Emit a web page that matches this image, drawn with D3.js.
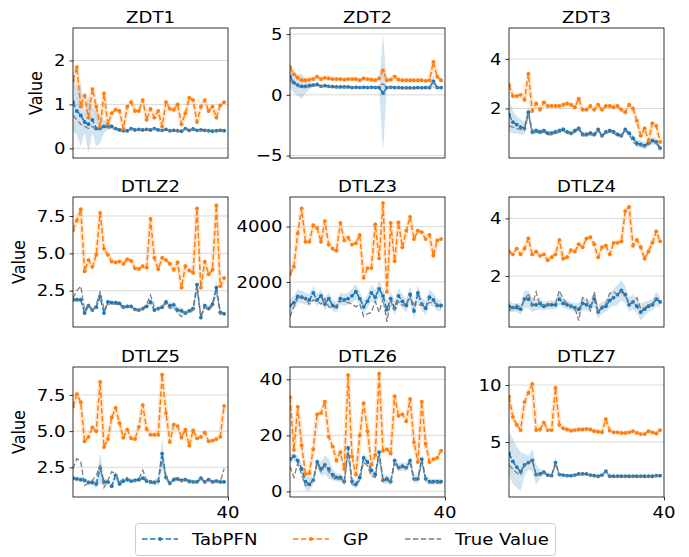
<!DOCTYPE html>
<html><head><meta charset="utf-8">
<script src="https://cdn.jsdelivr.net/npm/d3@7/dist/d3.min.js"></script>
<style>body{margin:0;background:#fff}svg{display:block;font-family:"DejaVu Sans",sans-serif}</style>
</head><body><svg id="c" width="689" height="557"></svg>
<script>
// ---------- data ----------
const titles = ["ZDT1","ZDT2","ZDT3","DTLZ2","DTLZ3","DTLZ4","DTLZ5","DTLZ6","DTLZ7"];
const legendLabels = ["TabPFN","GP","True Value"];
const xTicks = [40];

const zdt1_gp = [1.55,1.85,0.95,1.2,0.7,1.35,0.95,0.5,1.25,0.55,0.8,0.88,0.85,0.45,0.95,1.05,0.85,0.85,1.1,0.65,0.9,0.7,0.85,0.5,1.05,0.9,0.88,1.0,0.55,0.8,1.15,1.1,0.6,0.95,1.1,0.85,0.95,0.7,0.98,1.05];
const zdt1_tab = [1.05,0.85,0.75,0.6,0.55,0.65,0.45,0.45,0.5,0.5,0.5,0.45,0.42,0.4,0.4,0.45,0.42,0.43,0.42,0.43,0.42,0.45,0.42,0.41,0.43,0.4,0.41,0.4,0.39,0.45,0.41,0.44,0.41,0.42,0.41,0.4,0.39,0.4,0.41,0.4];
const zdt1_true = [0.75,0.65,0.55,0.5,0.45,0.5,0.42,0.45,0.48,0.47,0.45,0.43,0.4,0.4,0.4,0.43,0.41,0.42,0.41,0.42,0.41,0.44,0.41,0.4,0.42,0.4,0.4,0.4,0.38,0.44,0.4,0.43,0.4,0.41,0.4,0.39,0.38,0.39,0.4,0.39];
const zdt1_err = [0.65,0.55,0.7,0.25,0.65,0.3,0.4,0.33,0.15,0.08,0.05,0.03,0.03,0.03,0.03,0.03,0.03,0.03,0.03,0.03,0.03,0.03,0.03,0.03,0.03,0.03,0.03,0.03,0.03,0.03,0.03,0.03,0.03,0.03,0.03,0.03,0.03,0.03,0.03,0.03];

const zdt2_gp = [2.3,1.7,1.4,1.2,1.2,1.25,1.3,1.5,1.3,1.4,1.35,1.3,1.3,1.3,1.25,1.3,1.3,1.3,1.2,1.35,1.3,1.25,1.2,1.35,2.0,1.2,1.25,1.5,1.25,1.2,1.2,1.2,1.2,1.2,1.2,1.15,1.2,2.7,1.5,1.2];
const zdt2_tab = [1.5,1.0,0.8,0.7,0.7,0.75,0.8,0.85,0.7,0.75,0.7,0.68,0.65,0.65,0.65,0.65,0.6,0.62,0.6,0.62,0.6,0.62,0.6,0.6,0.15,0.6,0.62,0.6,0.6,0.58,0.58,0.58,0.58,0.6,0.58,0.6,0.6,1.1,0.6,0.6];
const zdt2_true = [1.2,0.85,0.7,0.6,0.6,0.68,0.7,0.8,0.65,0.7,0.65,0.62,0.6,0.6,0.6,0.6,0.58,0.6,0.58,0.6,0.58,0.6,0.58,0.75,0.9,0.58,0.6,0.58,0.58,0.55,0.55,0.55,0.55,0.58,0.55,0.58,0.58,1.05,0.58,0.58];
const zdt2_err = [0.9,0.8,0.9,1.05,0.6,0.3,0.15,0.1,0.08,0.08,0.06,0.06,0.06,0.06,0.06,0.06,0.06,0.06,0.06,0.06,0.06,0.06,0.06,0.1,4.85,0.1,0.06,0.06,0.06,0.06,0.06,0.06,0.06,0.06,0.06,0.1,0.2,0.55,0.1,0.06];

const zdt3_gp = [2.95,2.5,2.5,2.55,2.35,3.4,1.9,2.2,1.95,2.25,2.1,2.1,2.1,2.1,2.15,2.2,2.15,2.05,2.4,1.95,1.95,2.1,1.95,2.15,1.95,2.1,2.1,2.05,2.1,1.95,1.85,2.15,2.0,1.5,0.9,1.2,0.7,1.4,1.3,0.65];
const zdt3_tab = [1.75,1.45,1.35,1.25,1.2,1.85,1.05,1.1,1.05,1.1,1.0,1.0,1.05,1.1,1.15,1.05,1.0,1.1,1.2,0.95,0.95,1.0,0.95,1.15,0.9,1.05,1.1,1.05,0.95,0.9,1.15,1.0,0.8,0.6,0.55,0.5,0.6,0.7,0.65,0.4];
const zdt3_true = [1.3,1.25,1.2,1.15,1.1,1.8,1.0,1.05,1.0,1.05,0.95,0.95,1.0,1.05,1.1,1.0,0.95,1.05,1.15,0.9,0.9,0.95,0.9,1.1,0.85,1.0,1.05,1.0,0.9,0.85,1.1,0.95,0.65,0.5,0.5,0.45,0.55,0.65,0.6,0.35];
const zdt3_err = [0.7,0.45,0.35,0.3,0.25,0.25,0.15,0.12,0.1,0.1,0.1,0.1,0.1,0.1,0.1,0.1,0.1,0.1,0.1,0.1,0.1,0.1,0.1,0.1,0.1,0.1,0.1,0.1,0.1,0.1,0.1,0.1,0.15,0.15,0.15,0.15,0.15,0.15,0.15,0.15];

const dtlz2_gp = [6.55,7.2,7.95,3.8,4.55,4.1,4.9,7.7,5.3,4.9,4.45,4.4,4.45,4.3,4.6,4.5,4.0,3.95,4.15,4.05,7.3,4.7,3.95,4.7,4.55,4.3,3.9,4.4,2.7,4.15,3.85,3.7,8.0,2.7,4.45,3.6,3.9,8.2,2.8,3.35];
const dtlz2_tab = [1.9,1.9,1.9,1.0,1.5,1.2,1.4,2.1,1.0,1.75,1.7,1.7,1.65,1.4,1.45,1.45,1.25,1.2,1.3,1.45,1.75,1.2,1.3,1.4,1.75,1.5,1.55,1.2,1.15,1.0,1.15,1.3,2.9,0.7,1.5,1.3,1.6,2.7,1.05,0.95];
const dtlz2_true = [2.0,2.5,2.8,1.2,1.6,1.1,1.6,2.4,1.3,1.6,1.6,1.6,1.55,1.35,1.4,1.4,1.2,1.15,1.35,1.6,2.2,1.4,1.2,1.5,1.6,1.3,1.4,1.0,0.75,1.1,1.0,1.2,2.7,0.8,1.4,1.2,1.5,2.5,0.9,0.9];
const dtlz2_err = [0.15,0.15,0.15,0.15,0.2,0.15,0.15,0.2,0.15,0.15,0.12,0.12,0.12,0.12,0.12,0.12,0.12,0.12,0.12,0.15,0.2,0.15,0.15,0.15,0.2,0.2,0.25,0.2,0.25,0.15,0.15,0.2,0.45,0.2,0.2,0.15,0.2,0.55,0.15,0.12];

const dtlz3_gp = [2290,2550,3760,4660,3450,3450,4050,3950,3450,4200,3350,3200,3130,4130,3500,3600,3350,3400,3700,2150,2500,2500,4080,2850,4850,1640,4130,2750,4150,3250,3850,4350,3550,3850,3800,3550,3700,2950,3500,3550];
const dtlz3_tab = [1150,1250,1480,1450,1400,1350,1600,1350,1500,1200,1400,1150,1100,1400,1350,1400,1500,1650,1400,1100,1300,1600,1450,1750,1500,1000,1400,1050,1500,1300,1150,1550,950,1600,1200,1050,1450,1350,1150,1150];
const dtlz3_true = [750,1100,1400,1500,1400,1200,1350,1300,1200,1400,1100,1050,1150,1300,1300,1250,1200,1100,1200,750,850,900,1300,900,1400,560,1300,1000,1300,1150,1250,1400,1200,1150,1200,1200,1250,1250,1200,1050];
const dtlz3_err = [250,250,250,220,220,220,250,220,220,220,220,200,200,220,220,220,250,280,250,250,250,300,250,300,280,300,250,250,280,250,250,300,280,300,250,250,280,250,220,200];

const dtlz4_gp = [2.85,2.75,2.95,2.75,2.95,3.3,2.75,2.85,2.7,2.75,2.55,2.65,2.75,3.25,2.6,2.65,2.9,2.85,3.1,3.0,3.3,3.35,3.1,2.65,3.0,3.05,2.75,3.15,3.15,3.2,4.25,4.4,3.05,3.25,3.0,2.6,2.85,3.15,3.55,3.2];
const dtlz4_tab = [0.95,0.9,0.9,0.85,1.2,1.2,1.0,1.0,1.05,0.95,1.0,1.0,1.0,1.2,1.05,1.0,0.95,0.9,0.85,1.05,1.0,0.95,1.2,0.75,0.9,0.95,1.15,1.25,1.35,1.5,1.35,1.0,1.1,0.95,0.75,0.85,0.95,1.0,1.2,1.1];
const dtlz4_true = [0.8,0.9,1.0,0.9,1.15,1.4,1.0,1.45,0.95,1.0,1.0,1.05,1.05,1.5,1.2,1.05,0.95,0.9,0.45,1.25,1.2,0.8,1.45,0.75,0.95,1.05,1.4,1.45,1.35,1.45,1.3,1.1,1.05,1.25,0.85,0.9,1.0,1.05,1.25,1.15];
const dtlz4_err = [0.2,0.15,0.15,0.2,0.3,0.3,0.25,0.2,0.2,0.15,0.15,0.15,0.15,0.2,0.15,0.15,0.15,0.15,0.2,0.25,0.2,0.2,0.25,0.25,0.2,0.2,0.25,0.3,0.35,0.35,0.3,0.25,0.25,0.25,0.3,0.25,0.2,0.2,0.25,0.2];

const dtlz5_gp = [6.7,7.55,7.0,4.3,4.6,5.25,5.0,8.4,3.9,4.45,5.95,6.6,5.55,4.55,5.1,4.5,4.45,5.3,6.8,5.15,4.75,4.75,4.75,8.9,6.25,4.25,5.45,5.35,4.55,5.1,4.0,5.05,4.5,4.6,4.9,4.3,4.35,4.45,4.6,6.75];
const dtlz5_tab = [1.75,1.7,1.65,1.6,1.45,1.45,1.35,2.45,1.5,1.5,1.2,1.95,1.35,1.55,1.65,1.55,1.6,1.65,1.75,1.55,1.5,1.45,1.55,3.45,1.8,1.4,1.65,1.7,1.6,1.65,1.55,1.5,1.5,1.75,1.5,1.65,1.5,1.55,1.5,1.5];
const dtlz5_true = [2.4,3.1,2.9,1.25,1.4,1.6,1.95,2.6,1.1,1.6,2.2,2.05,1.5,1.7,1.8,1.5,1.55,1.7,2.3,1.6,1.4,1.4,1.6,3.0,1.9,1.3,1.75,1.75,1.5,1.7,1.4,1.55,1.4,1.7,1.4,1.7,1.4,1.5,1.5,2.4];
const dtlz5_err = [0.15,0.15,0.15,0.15,0.15,0.15,0.3,1.05,0.3,0.15,0.2,0.3,0.2,0.15,0.15,0.15,0.15,0.15,0.15,0.15,0.15,0.15,0.3,1.1,0.3,0.15,0.15,0.15,0.15,0.15,0.15,0.15,0.15,0.15,0.15,0.15,0.15,0.15,0.15,0.15];

const dtlz6_gp = [33.6,14.8,30.2,16.5,6.2,6.5,15.0,27.5,28.0,32.0,19.5,16.0,11.0,14.0,8.0,41.5,12.5,6.0,20.0,31.5,21.5,9.5,13.0,42.0,14.5,15.0,13.5,34.0,27.0,27.5,25.0,33.0,17.5,10.5,32.0,17.0,10.5,11.5,12.0,14.5];
const dtlz6_tab = [11.5,12.5,11.0,8.0,3.5,2.5,4.0,10.5,8.0,9.5,8.0,6.0,5.0,5.0,3.5,15.5,3.5,2.5,5.0,12.0,10.5,7.5,6.0,14.0,4.0,4.5,3.5,11.0,8.5,9.0,8.5,11.0,4.5,4.5,11.5,4.5,3.5,3.5,3.5,3.5];
const dtlz6_true = [9.0,5.0,10.0,6.0,2.0,3.0,3.5,9.5,7.0,9.0,7.0,5.0,4.0,4.5,3.0,14.0,2.5,2.0,4.0,10.5,9.0,5.5,5.0,13.0,3.5,4.0,3.0,10.0,8.0,8.5,8.0,10.0,4.0,4.0,10.5,4.0,3.0,3.0,3.0,3.0];
const dtlz6_err = [1.5,1.5,1.5,2.0,3.0,2.5,1.5,1.5,2.5,3.5,3.5,2.0,1.5,1.5,1.5,1.5,1.5,1.5,1.5,1.5,1.5,1.5,1.5,1.5,1.5,1.5,1.5,1.5,1.5,1.5,1.5,1.5,1.5,1.5,1.5,1.5,1.0,1.0,1.0,1.0];

const dtlz7_gp = [8.98,7.2,6.5,6.05,8.5,9.3,10.1,6.05,6.1,6.7,6.05,6.05,9.75,6.5,6.2,6.1,6.0,6.05,6.1,6.1,6.15,6.1,5.95,5.9,5.85,7.0,6.0,5.85,5.85,5.8,5.8,5.85,5.95,5.8,5.7,5.7,5.95,5.85,5.75,6.05];
const dtlz7_tab = [4.0,3.3,2.8,2.4,3.0,3.2,3.4,2.15,2.2,2.35,2.1,2.05,3.2,2.15,2.1,2.05,2.05,2.1,2.2,2.2,2.2,2.1,2.05,2.0,2.1,2.45,2.0,2.0,2.0,2.0,2.0,2.0,2.0,2.0,2.0,2.0,2.0,2.0,2.05,2.05];
const dtlz7_true = [3.0,2.6,2.3,2.1,2.9,3.2,3.3,2.1,2.15,2.3,2.05,2.0,3.1,2.1,2.05,2.0,2.0,2.05,2.15,2.15,2.15,2.05,2.0,1.95,2.05,2.4,1.95,1.95,1.95,1.95,1.95,1.95,1.95,1.95,1.95,1.95,1.95,1.95,2.0,2.0];
const dtlz7_err = [1.9,2.0,1.8,1.7,1.0,0.6,1.0,0.9,0.4,0.2,0.1,0.1,0.45,0.1,0.1,0.1,0.1,0.1,0.1,0.1,0.1,0.1,0.1,0.1,0.1,0.2,0.1,0.1,0.1,0.1,0.1,0.1,0.1,0.1,0.1,0.1,0.1,0.1,0.1,0.1];

const yTickValues = [[0,1,2],[-5,0,5],[2,4],[2.5,5,7.5],[2000,4000],[2,4],[2.5,5,7.5],[0,20,40],[5,10]];
const yTickLabels = [["0","1","2"],["\u22125","0","5"],["2","4"],["2.5","5.0","7.5"],["2000","4000"],["2","4"],["2.5","5.0","7.5"],["0","20","40"],["5","10"]];
const yDomains = [[-0.22,2.74],[-5.2,5.5],[0.0,5.25],[0.07,8.77],[372,5070],[0.23,4.74],[0.45,9.43],[-2.0,44.4],[0.18,11.58]];

const gpSeries = [zdt1_gp,zdt2_gp,zdt3_gp,dtlz2_gp,dtlz3_gp,dtlz4_gp,dtlz5_gp,dtlz6_gp,dtlz7_gp];
const tabSeries = [zdt1_tab,zdt2_tab,zdt3_tab,dtlz2_tab,dtlz3_tab,dtlz4_tab,dtlz5_tab,dtlz6_tab,dtlz7_tab];
const trueSeries = [zdt1_true,zdt2_true,zdt3_true,dtlz2_true,dtlz3_true,dtlz4_true,dtlz5_true,dtlz6_true,dtlz7_true];
const errSeries = [zdt1_err,zdt2_err,zdt3_err,dtlz2_err,dtlz3_err,dtlz4_err,dtlz5_err,dtlz6_err,dtlz7_err];

// ---------- layout ----------
const BLUE="#1f77b4", ORANGE="#ff7f0e", GRAY="#7f7f7f";
const colLeft=[73,290,509], rowTop=[28,197,367], PW=155, PH=130;
const FS=16, SX=1.13;
const ylabelX=[-31.5,-48,-48];
const svg=d3.select("#c");
svg.append("rect").attr("width",689).attr("height",557).attr("fill","#fff");

function stext(parent,x,y,str,anchor,rot){
  return parent.append("g").attr("transform",`translate(${x},${y}) scale(${SX},1)${rot?" rotate("+rot+")":""}`)
    .append("text").attr("font-size",FS).attr("fill","#000").attr("text-anchor",anchor).text(str);
}

titles.forEach((t,k)=>{
  const r=Math.floor(k/3), c=k%3;
  const g=svg.append("g").attr("transform",`translate(${colLeft[c]},${rowTop[r]})`);
  const x=d3.scaleLinear().domain([0,40]).range([0,PW]);
  const y=d3.scaleLinear().domain(yDomains[k]).range([PH,0]);
  const clipId="clip"+k;
  g.append("clipPath").attr("id",clipId).append("rect").attr("width",PW).attr("height",PH);
  g.append("g").selectAll("line").data(yTickValues[k]).join("line")
    .attr("x1",0).attr("x2",PW).attr("y1",d=>y(d)).attr("y2",d=>y(d))
    .attr("stroke","#b0b0b0").attr("stroke-opacity",0.6).attr("stroke-width",0.8);
  const plot=g.append("g").attr("clip-path",`url(#${clipId})`);
  const tab=tabSeries[k], gp=gpSeries[k], tr=trueSeries[k], er=errSeries[k];
  const idx=d3.range(tab.length);
  plot.append("path").datum(idx)
    .attr("d",d3.area().x(i=>x(i)).y0(i=>y(tab[i]-er[i])).y1(i=>y(tab[i]+er[i])))
    .attr("fill",BLUE).attr("fill-opacity",0.2);
  const line=(arr)=>d3.line().x(i=>x(i)).y(i=>y(arr[i]))(idx);
  plot.append("path").attr("d",line(gp)).attr("fill","none").attr("stroke",ORANGE)
    .attr("stroke-opacity",0.18).attr("stroke-width",4.5).attr("stroke-linejoin","round");
  plot.append("path").attr("d",line(tab)).attr("fill","none").attr("stroke",BLUE)
    .attr("stroke-width",1.5).attr("stroke-dasharray","5.5,2.4");
  plot.append("g").selectAll("circle").data(idx).join("circle")
    .attr("cx",i=>x(i)).attr("cy",i=>y(tab[i])).attr("r",1.9).attr("fill",BLUE);
  plot.append("path").attr("d",line(gp)).attr("fill","none").attr("stroke",ORANGE)
    .attr("stroke-width",1.5).attr("stroke-dasharray","5.5,2.4");
  plot.append("g").selectAll("circle").data(idx).join("circle")
    .attr("cx",i=>x(i)).attr("cy",i=>y(gp[i])).attr("r",1.9).attr("fill",ORANGE);
  plot.append("path").attr("d",line(tr)).attr("fill","none").attr("stroke",GRAY)
    .attr("stroke-width",1.3).attr("stroke-dasharray","5.5,2.4");
  const ya=d3.axisLeft(y).tickValues(yTickValues[k]).tickFormat("").tickSize(3.5);
  const yg=g.append("g").call(ya);
  yg.select(".domain").remove();
  yg.selectAll("line").attr("stroke","#000").attr("stroke-width",0.8);
  yTickValues[k].forEach((v,i)=>stext(g,-7.5,y(v)+5.8,yTickLabels[k][i],"end"));
  const xa=d3.axisBottom(x).tickValues(r===2?xTicks:[]).tickFormat("").tickSize(3.5);
  const xg=g.append("g").attr("transform",`translate(0,${PH})`).call(xa);
  xg.select(".domain").remove();
  xg.selectAll("line").attr("stroke","#000").attr("stroke-width",0.8);
  if(r===2) xTicks.forEach(v=>stext(g,x(v),PH+21,String(v),"middle"));
  g.append("rect").attr("width",PW).attr("height",PH).attr("fill","none").attr("stroke","#000").attr("stroke-width",0.8);
  stext(g,PW/2,-4.7,t,"middle");
  if(c===0) stext(g,ylabelX[r],PH/2,"Value","middle",-90);
});

// legend
const lg=svg.append("g");
lg.append("rect").attr("x",135.5).attr("y",523.5).attr("width",420).attr("height",32).attr("rx",3)
  .attr("fill","#fff").attr("stroke","#cccccc").attr("stroke-width",1);
const legX=[142,293,405];
const legColors=[BLUE,ORANGE,GRAY];
legendLabels.forEach((lab,i)=>{
  lg.append("line").attr("x1",legX[i]).attr("x2",legX[i]+36).attr("y1",539).attr("y2",539)
    .attr("stroke",legColors[i]).attr("stroke-width",1.5).attr("stroke-dasharray","5.5,2.4");
  if(i<2) lg.append("circle").attr("cx",legX[i]+18).attr("cy",539).attr("r",1.9).attr("fill",legColors[i]);
  stext(lg,legX[i]+50,544.8,lab,"start");
});
</script></body></html>
